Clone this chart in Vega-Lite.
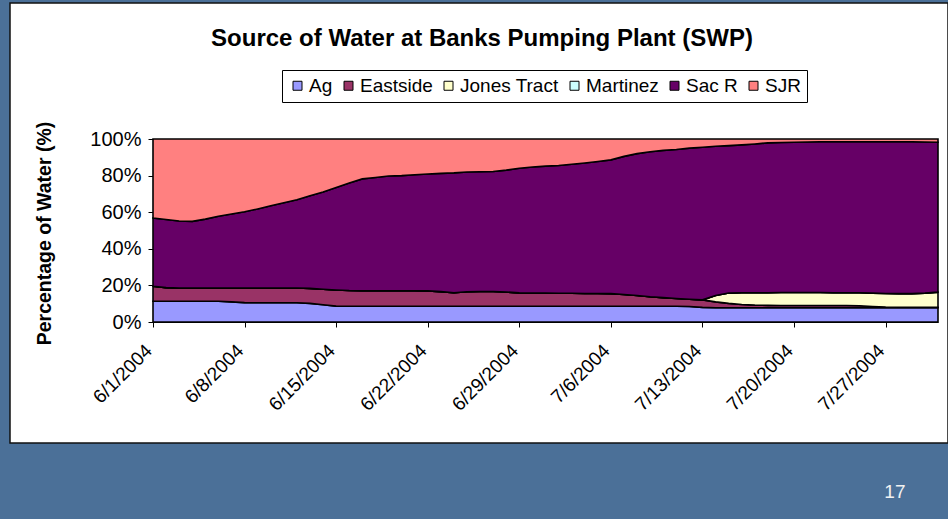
{
  "$schema": "https://vega.github.io/schema/vega-lite/v6.json",
  "width": 938,
  "height": 440,
  "autosize": {"type": "none"},
  "padding": {"left": 10, "top": 3, "right": 0, "bottom": 76},
  "background": "#4b7098",
  "config": {
    "font": "Liberation Sans",
    "view": {"fill": "white", "stroke": "#111111", "strokeWidth": 1.5}
  },
  "title": {
    "text": "Source of Water at Banks Pumping Plant (SWP)",
    "font": "Liberation Sans",
    "fontSize": 24,
    "fontWeight": "bold",
    "color": "black",
    "anchor": "middle",
    "frame": "group",
    "dx": 3,
    "offset": -48
  },
  "data": {
    "values": [
      {"date": "2004-06-01", "Ag": 11.3, "Eastside": 8.2, "Jones Tract": 0, "Martinez": 0, "Sac R": 37.3, "SJR": 43.2},
      {"date": "2004-06-02", "Ag": 11.3, "Eastside": 7.5, "Jones Tract": 0, "Martinez": 0, "Sac R": 37.2, "SJR": 44.0},
      {"date": "2004-06-03", "Ag": 11.3, "Eastside": 7.3, "Jones Tract": 0, "Martinez": 0, "Sac R": 36.6, "SJR": 44.8},
      {"date": "2004-06-04", "Ag": 11.3, "Eastside": 7.3, "Jones Tract": 0, "Martinez": 0, "Sac R": 36.4, "SJR": 45.0},
      {"date": "2004-06-05", "Ag": 11.3, "Eastside": 7.3, "Jones Tract": 0, "Martinez": 0, "Sac R": 37.6, "SJR": 43.8},
      {"date": "2004-06-06", "Ag": 11.3, "Eastside": 7.3, "Jones Tract": 0, "Martinez": 0, "Sac R": 39.2, "SJR": 42.2},
      {"date": "2004-06-07", "Ag": 11.0, "Eastside": 7.6, "Jones Tract": 0, "Martinez": 0, "Sac R": 40.4, "SJR": 41.0},
      {"date": "2004-06-08", "Ag": 10.6, "Eastside": 8.0, "Jones Tract": 0, "Martinez": 0, "Sac R": 41.6, "SJR": 39.8},
      {"date": "2004-06-09", "Ag": 10.5, "Eastside": 8.1, "Jones Tract": 0, "Martinez": 0, "Sac R": 43.2, "SJR": 38.2},
      {"date": "2004-06-10", "Ag": 10.5, "Eastside": 8.1, "Jones Tract": 0, "Martinez": 0, "Sac R": 44.9, "SJR": 36.5},
      {"date": "2004-06-11", "Ag": 10.5, "Eastside": 8.1, "Jones Tract": 0, "Martinez": 0, "Sac R": 46.6, "SJR": 34.8},
      {"date": "2004-06-12", "Ag": 10.5, "Eastside": 8.1, "Jones Tract": 0, "Martinez": 0, "Sac R": 48.2, "SJR": 33.2},
      {"date": "2004-06-13", "Ag": 10.2, "Eastside": 8.2, "Jones Tract": 0, "Martinez": 0, "Sac R": 50.6, "SJR": 31.0},
      {"date": "2004-06-14", "Ag": 9.4, "Eastside": 8.5, "Jones Tract": 0, "Martinez": 0, "Sac R": 53.1, "SJR": 29.0},
      {"date": "2004-06-15", "Ag": 8.7, "Eastside": 8.8, "Jones Tract": 0, "Martinez": 0, "Sac R": 56.0, "SJR": 26.5},
      {"date": "2004-06-16", "Ag": 8.6, "Eastside": 8.6, "Jones Tract": 0, "Martinez": 0, "Sac R": 58.8, "SJR": 24.0},
      {"date": "2004-06-17", "Ag": 8.6, "Eastside": 8.5, "Jones Tract": 0, "Martinez": 0, "Sac R": 61.1, "SJR": 21.8},
      {"date": "2004-06-18", "Ag": 8.6, "Eastside": 8.5, "Jones Tract": 0, "Martinez": 0, "Sac R": 61.9, "SJR": 21.0},
      {"date": "2004-06-19", "Ag": 8.6, "Eastside": 8.5, "Jones Tract": 0, "Martinez": 0, "Sac R": 62.7, "SJR": 20.2},
      {"date": "2004-06-20", "Ag": 8.6, "Eastside": 8.5, "Jones Tract": 0, "Martinez": 0, "Sac R": 62.9, "SJR": 20.0},
      {"date": "2004-06-21", "Ag": 8.6, "Eastside": 8.5, "Jones Tract": 0, "Martinez": 0, "Sac R": 63.4, "SJR": 19.5},
      {"date": "2004-06-22", "Ag": 8.6, "Eastside": 8.4, "Jones Tract": 0, "Martinez": 0, "Sac R": 63.9, "SJR": 19.1},
      {"date": "2004-06-23", "Ag": 8.6, "Eastside": 8.0, "Jones Tract": 0, "Martinez": 0, "Sac R": 64.6, "SJR": 18.8},
      {"date": "2004-06-24", "Ag": 8.6, "Eastside": 7.4, "Jones Tract": 0, "Martinez": 0, "Sac R": 65.5, "SJR": 18.5},
      {"date": "2004-06-25", "Ag": 8.6, "Eastside": 7.9, "Jones Tract": 0, "Martinez": 0, "Sac R": 65.5, "SJR": 18.0},
      {"date": "2004-06-26", "Ag": 8.6, "Eastside": 8.1, "Jones Tract": 0, "Martinez": 0, "Sac R": 65.4, "SJR": 17.9},
      {"date": "2004-06-27", "Ag": 8.6, "Eastside": 8.1, "Jones Tract": 0, "Martinez": 0, "Sac R": 65.5, "SJR": 17.8},
      {"date": "2004-06-28", "Ag": 8.6, "Eastside": 7.8, "Jones Tract": 0, "Martinez": 0, "Sac R": 66.6, "SJR": 17.0},
      {"date": "2004-06-29", "Ag": 8.6, "Eastside": 7.3, "Jones Tract": 0, "Martinez": 0, "Sac R": 68.1, "SJR": 16.0},
      {"date": "2004-06-30", "Ag": 8.6, "Eastside": 7.2, "Jones Tract": 0, "Martinez": 0, "Sac R": 68.9, "SJR": 15.3},
      {"date": "2004-07-01", "Ag": 8.6, "Eastside": 7.2, "Jones Tract": 0, "Martinez": 0, "Sac R": 69.4, "SJR": 14.8},
      {"date": "2004-07-02", "Ag": 8.6, "Eastside": 7.1, "Jones Tract": 0, "Martinez": 0, "Sac R": 69.8, "SJR": 14.5},
      {"date": "2004-07-03", "Ag": 8.6, "Eastside": 7.1, "Jones Tract": 0, "Martinez": 0, "Sac R": 70.5, "SJR": 13.8},
      {"date": "2004-07-04", "Ag": 8.6, "Eastside": 7.0, "Jones Tract": 0, "Martinez": 0, "Sac R": 71.3, "SJR": 13.1},
      {"date": "2004-07-05", "Ag": 8.6, "Eastside": 7.0, "Jones Tract": 0, "Martinez": 0, "Sac R": 72.1, "SJR": 12.3},
      {"date": "2004-07-06", "Ag": 8.6, "Eastside": 6.9, "Jones Tract": 0, "Martinez": 0, "Sac R": 73.1, "SJR": 11.4},
      {"date": "2004-07-07", "Ag": 8.6, "Eastside": 6.4, "Jones Tract": 0, "Martinez": 0, "Sac R": 75.5, "SJR": 9.5},
      {"date": "2004-07-08", "Ag": 8.6, "Eastside": 5.9, "Jones Tract": 0, "Martinez": 0, "Sac R": 77.5, "SJR": 8.0},
      {"date": "2004-07-09", "Ag": 8.6, "Eastside": 5.2, "Jones Tract": 0, "Martinez": 0, "Sac R": 79.2, "SJR": 7.0},
      {"date": "2004-07-10", "Ag": 8.6, "Eastside": 4.7, "Jones Tract": 0, "Martinez": 0, "Sac R": 80.5, "SJR": 6.2},
      {"date": "2004-07-11", "Ag": 8.6, "Eastside": 4.2, "Jones Tract": 0, "Martinez": 0, "Sac R": 81.5, "SJR": 5.7},
      {"date": "2004-07-12", "Ag": 8.5, "Eastside": 3.9, "Jones Tract": 0, "Martinez": 0, "Sac R": 82.6, "SJR": 5.0},
      {"date": "2004-07-13", "Ag": 8.0, "Eastside": 4.1, "Jones Tract": 0, "Martinez": 0, "Sac R": 83.4, "SJR": 4.5},
      {"date": "2004-07-14", "Ag": 7.8, "Eastside": 3.2, "Jones Tract": 3.5, "Martinez": 0, "Sac R": 81.5, "SJR": 4.0},
      {"date": "2004-07-15", "Ag": 7.8, "Eastside": 2.4, "Jones Tract": 5.6, "Martinez": 0, "Sac R": 80.6, "SJR": 3.6},
      {"date": "2004-07-16", "Ag": 7.8, "Eastside": 1.8, "Jones Tract": 6.4, "Martinez": 0, "Sac R": 80.8, "SJR": 3.2},
      {"date": "2004-07-17", "Ag": 7.8, "Eastside": 1.4, "Jones Tract": 6.8, "Martinez": 0, "Sac R": 81.3, "SJR": 2.7},
      {"date": "2004-07-18", "Ag": 7.8, "Eastside": 1.3, "Jones Tract": 6.9, "Martinez": 0, "Sac R": 81.9, "SJR": 2.1},
      {"date": "2004-07-19", "Ag": 7.8, "Eastside": 1.2, "Jones Tract": 7.1, "Martinez": 0, "Sac R": 82.0, "SJR": 1.9},
      {"date": "2004-07-20", "Ag": 7.8, "Eastside": 1.2, "Jones Tract": 7.1, "Martinez": 0, "Sac R": 82.1, "SJR": 1.8},
      {"date": "2004-07-21", "Ag": 7.8, "Eastside": 1.2, "Jones Tract": 7.1, "Martinez": 0, "Sac R": 82.3, "SJR": 1.6},
      {"date": "2004-07-22", "Ag": 7.8, "Eastside": 1.2, "Jones Tract": 7.1, "Martinez": 0, "Sac R": 82.4, "SJR": 1.5},
      {"date": "2004-07-23", "Ag": 7.8, "Eastside": 1.2, "Jones Tract": 7.0, "Martinez": 0, "Sac R": 82.5, "SJR": 1.5},
      {"date": "2004-07-24", "Ag": 7.8, "Eastside": 1.2, "Jones Tract": 7.0, "Martinez": 0, "Sac R": 82.5, "SJR": 1.5},
      {"date": "2004-07-25", "Ag": 7.8, "Eastside": 1.1, "Jones Tract": 7.1, "Martinez": 0, "Sac R": 82.5, "SJR": 1.5},
      {"date": "2004-07-26", "Ag": 7.8, "Eastside": 0.7, "Jones Tract": 7.3, "Martinez": 0, "Sac R": 82.7, "SJR": 1.5},
      {"date": "2004-07-27", "Ag": 7.8, "Eastside": 0.4, "Jones Tract": 7.4, "Martinez": 0, "Sac R": 82.9, "SJR": 1.5},
      {"date": "2004-07-28", "Ag": 7.8, "Eastside": 0.3, "Jones Tract": 7.4, "Martinez": 0, "Sac R": 83.0, "SJR": 1.5},
      {"date": "2004-07-29", "Ag": 7.8, "Eastside": 0.3, "Jones Tract": 7.4, "Martinez": 0, "Sac R": 83.0, "SJR": 1.5},
      {"date": "2004-07-30", "Ag": 7.8, "Eastside": 0.3, "Jones Tract": 7.7, "Martinez": 0, "Sac R": 82.6, "SJR": 1.6},
      {"date": "2004-07-31", "Ag": 7.8, "Eastside": 0.3, "Jones Tract": 8.2, "Martinez": 0, "Sac R": 81.9, "SJR": 1.8}
    ]
  },
  "transform": [
    {"fold": ["Ag", "Eastside", "Jones Tract", "Martinez", "Sac R", "SJR"], "as": ["source", "pct"]},
    {"window": [{"op": "row_number", "as": "stack_rank"}], "groupby": ["date"]}
  ],
  "mark": {"type": "area", "stroke": "black", "strokeWidth": 1.6, "interpolate": "linear"},
  "encoding": {
    "x": {
      "field": "date",
      "type": "temporal",
      "scale": {
        "type": "utc",
        "domain": [
          {"year": 2004, "month": 6, "date": 1, "utc": true},
          {"year": 2004, "month": 7, "date": 31, "utc": true}
        ],
        "range": [143, 928],
        "nice": false
      },
      "axis": {
        "offset": -121,
        "values": [
          {"year": 2004, "month": 6, "date": 1, "utc": true},
          {"year": 2004, "month": 6, "date": 8, "utc": true},
          {"year": 2004, "month": 6, "date": 15, "utc": true},
          {"year": 2004, "month": 6, "date": 22, "utc": true},
          {"year": 2004, "month": 6, "date": 29, "utc": true},
          {"year": 2004, "month": 7, "date": 6, "utc": true},
          {"year": 2004, "month": 7, "date": 13, "utc": true},
          {"year": 2004, "month": 7, "date": 20, "utc": true},
          {"year": 2004, "month": 7, "date": 27, "utc": true}
        ],
        "labelExpr": "utcFormat(datum.value, '%-m/%-d/%Y')",
        "labelAngle": -45,
        "labelAlign": "right",
        "labelBaseline": "top",
        "labelFontSize": 19,
        "labelColor": "black",
        "labelPadding": 14,
        "labelOffset": -11,
        "labelOverlap": false,
        "labelBound": false,
        "labelFlush": false,
        "tickSize": 5,
        "tickColor": "black",
        "domainColor": "black",
        "grid": false,
        "title": "17",
        "titleColor": "#f2f2f2",
        "titleFontSize": 19,
        "titleFontWeight": "normal",
        "titleX": 895,
        "titleY": 175,
        "titleAlign": "right",
        "titleBaseline": "alphabetic",
        "titleAnchor": "end"
      }
    },
    "y": {
      "field": "pct",
      "type": "quantitative",
      "stack": "normalize",
      "scale": {"domain": [0, 1], "range": [319, 136], "nice": false},
      "axis": {
        "offset": -143,
        "values": [0, 0.2, 0.4, 0.6, 0.8, 1],
        "format": ".0%",
        "labelFontSize": 20,
        "labelColor": "black",
        "labelPadding": 7,
        "tickSize": 5,
        "tickColor": "black",
        "domainColor": "black",
        "grid": false,
        "title": "Percentage of Water (%)",
        "titleFontSize": 19.5,
        "titleFontWeight": "bold",
        "titleColor": "black",
        "titleX": -109,
        "titleY": 230,
        "titleAngle": -90,
        "titleAlign": "center",
        "titleBaseline": "middle"
      }
    },
    "order": {"field": "stack_rank", "type": "quantitative", "sort": "ascending"},
    "color": {
      "field": "source",
      "type": "nominal",
      "sort": ["Ag", "Eastside", "Jones Tract", "Martinez", "Sac R", "SJR"],
      "scale": {
        "domain": ["Ag", "Eastside", "Jones Tract", "Martinez", "Sac R", "SJR"],
        "range": ["#9999ff", "#993366", "#ffffcc", "#ccffff", "#660066", "#ff8080"]
      },
      "legend": {
        "orient": "none",
        "legendX": 272,
        "legendY": 67,
        "direction": "horizontal",
        "title": null,
        "symbolType": "square",
        "symbolSize": 81,
        "symbolStrokeColor": "black",
        "symbolStrokeWidth": 1,
        "labelFontSize": 19,
        "labelColor": "black",
        "labelOffset": 2,
        "columnPadding": 6,
        "padding": 6,
        "strokeColor": "black",
        "fillColor": "white"
      }
    }
  }
}
